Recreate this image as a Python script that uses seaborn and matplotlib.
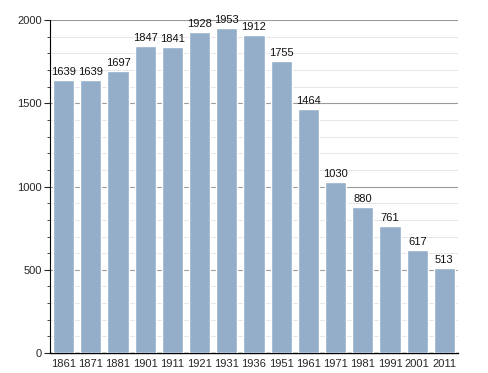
import numpy as np
import pandas as pd
import matplotlib
matplotlib.use("Agg")
import matplotlib.pyplot as plt
import seaborn as sns
from matplotlib.ticker import MultipleLocator

# Данные
years = ['1861', '1871', '1881', '1901', '1911', '1921', '1931', '1936',
         '1951', '1961', '1971', '1981', '1991', '2001', '2011']
population = [1639, 1639, 1697, 1847, 1841, 1928, 1953, 1912,
              1755, 1464, 1030, 880, 761, 617, 513]

df = pd.DataFrame({'Год': years, 'Население': population})

sns.set_style('white')
plt.rcParams['font.family'] = ['Liberation Sans', 'DejaVu Sans']

fig = plt.figure(figsize=(4.88, 3.73), dpi=100)
ax = fig.add_axes([0.1025, 0.0536, 0.836, 0.8924])

sns.barplot(data=df, x='Год', y='Население', color='#94adc9', saturation=1,
            width=0.78, ax=ax, zorder=3)

for i, v in enumerate(population):
    ax.text(i, v + 18, str(v), ha='center', va='bottom', fontsize=8, color='#111111')

ax.set_ylim(0, 2000)
ax.set_xlim(-0.5, len(years) - 0.5)
ax.yaxis.set_major_locator(MultipleLocator(500))
ax.yaxis.set_minor_locator(MultipleLocator(100))
ax.grid(which='major', axis='y', color='#9a9a9a', linewidth=0.8, zorder=0)
ax.grid(which='minor', axis='y', color='#e2e2e2', linewidth=0.6, zorder=0)
ax.set_axisbelow(True)

for s in ['top', 'right']:
    ax.spines[s].set_visible(False)
ax.spines['left'].set_color('black')
ax.spines['left'].set_linewidth(0.8)
ax.spines['bottom'].set_color('black')
ax.spines['bottom'].set_linewidth(1.0)

ax.tick_params(axis='y', which='major', left=True, length=4, width=0.8, labelsize=8, pad=2)
ax.tick_params(axis='y', which='minor', left=True, length=2, width=0.6)
ax.tick_params(axis='x', bottom=False, labelsize=8, pad=1)
ax.set_xlabel('')
ax.set_ylabel('')

fig.savefig('out.png', dpi=100)
